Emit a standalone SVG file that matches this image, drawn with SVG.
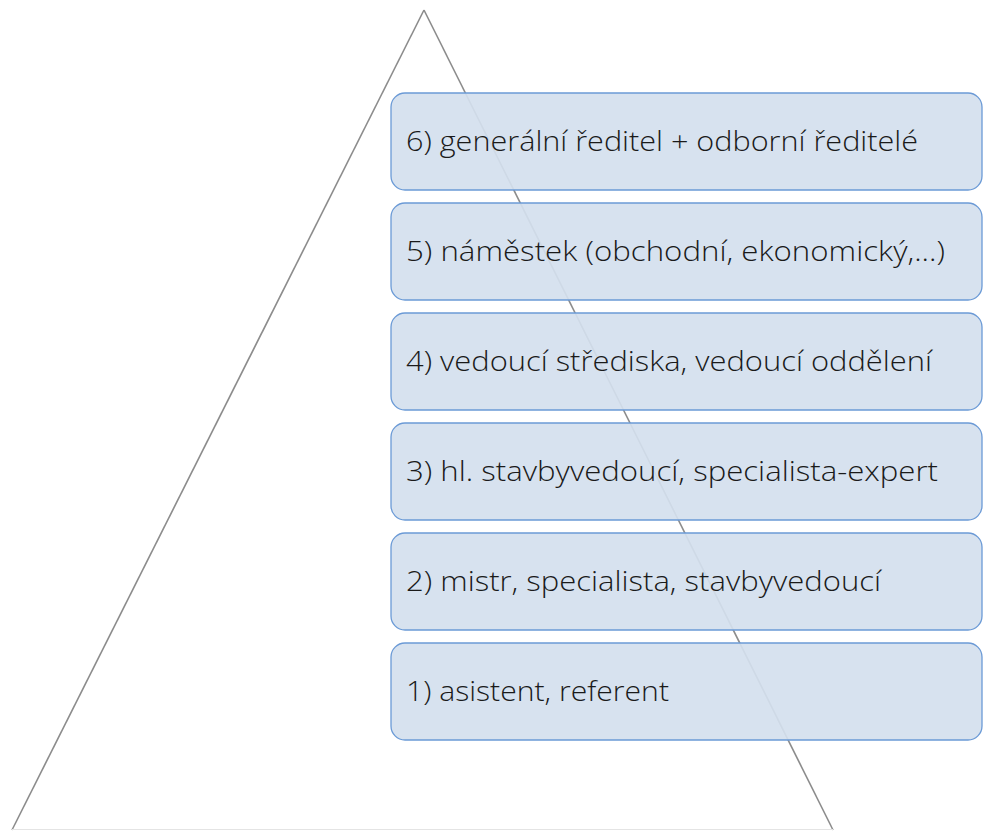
<svg xmlns="http://www.w3.org/2000/svg" width="983" height="832" viewBox="0 0 983 832">
<style>
.box{fill:#d4dfee;fill-opacity:0.92;stroke:#6b9ad6;stroke-width:1.3}
.t{font-family:"Open Sans","Noto Sans",sans-serif;font-size:27.5px;font-weight:300;fill:#1a1a1a}
.tri{fill:none;stroke:#8c8c8c;stroke-width:1.6}
</style>
<rect width="983" height="832" fill="#ffffff"/>
<g id="pyramid">
<line x1="424" y1="10" x2="12" y2="830" class="tri"/>
<line x1="424" y1="10" x2="833" y2="830" class="tri"/>
<line x1="12" y1="829.5" x2="833" y2="829.5" stroke="#e4e4e4" stroke-width="1"/>
</g>
<g id="connectors"></g>
<g id="level6"><rect class="box" x="391" y="93" width="591" height="97" rx="14"/><text class="t" x="406" y="151" textLength="512" lengthAdjust="spacingAndGlyphs">6) generální ředitel + odborní ředitelé</text></g>
<g id="level5"><rect class="box" x="391" y="203" width="591" height="97" rx="14"/><text class="t" x="406" y="261" textLength="539" lengthAdjust="spacingAndGlyphs">5) náměstek (obchodní, ekonomický,...)</text></g>
<g id="level4"><rect class="box" x="391" y="313" width="591" height="97" rx="14"/><text class="t" x="406" y="371" textLength="526" lengthAdjust="spacingAndGlyphs">4) vedoucí střediska, vedoucí oddělení</text></g>
<g id="level3"><rect class="box" x="391" y="423" width="591" height="97" rx="14"/><text class="t" x="406" y="481" textLength="532" lengthAdjust="spacingAndGlyphs">3) hl. stavbyvedoucí, specialista-expert</text></g>
<g id="level2"><rect class="box" x="391" y="533" width="591" height="97" rx="14"/><text class="t" x="406" y="591" textLength="475" lengthAdjust="spacingAndGlyphs">2) mistr, specialista, stavbyvedoucí</text></g>
<g id="level1"><rect class="box" x="391" y="643" width="591" height="97" rx="14"/><text class="t" x="406" y="701" textLength="263" lengthAdjust="spacingAndGlyphs">1) asistent, referent</text></g>
</svg>
